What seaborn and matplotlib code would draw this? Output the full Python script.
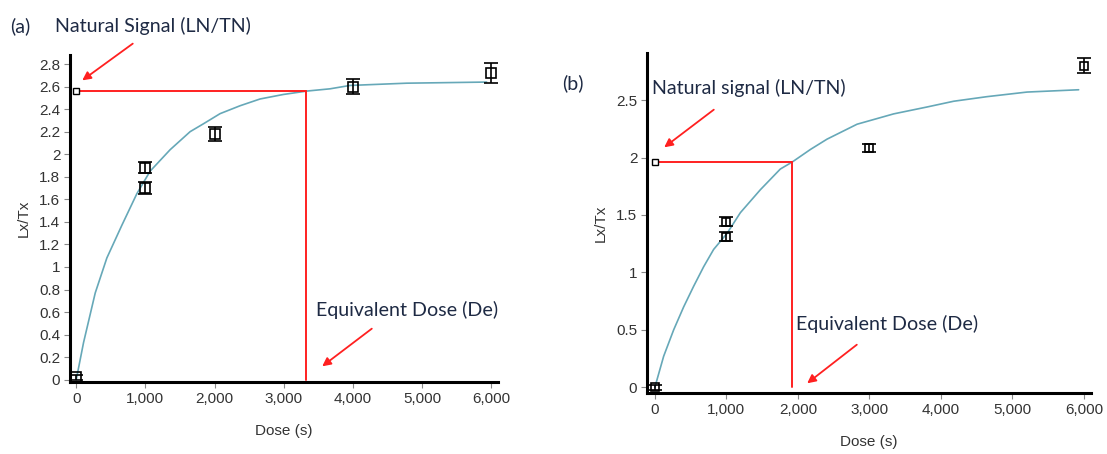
import numpy as np
import pandas as pd
import matplotlib
matplotlib.use("Agg")
import matplotlib.pyplot as plt
from matplotlib.ticker import FuncFormatter
import seaborn as sns

# ---------------- data ----------------
# Panel (a)
a_dose = [0, 1000, 1000, 2000, 4000, 6000]
a_lxtx = [0.02, 1.88, 1.70, 2.18, 2.60, 2.72]
a_err = [0.02, 0.05, 0.05, 0.065, 0.07, 0.085]
a_curve_dose = [0, 106, 275, 443, 660, 877, 1069, 1358, 1647, 1840, 2081, 2370,
                2659, 2996, 3333, 3670, 3960, 4778, 5935]
a_curve_lxtx = [0.0, 0.33, 0.77, 1.08, 1.37, 1.65, 1.85, 2.04, 2.20, 2.27, 2.36, 2.43,
                2.49, 2.53, 2.56, 2.58, 2.61, 2.63, 2.64]
a_natural = 2.56
a_de = 3320
a_yticks = [0, 0.2, 0.4, 0.6, 0.8, 1, 1.2, 1.4, 1.6, 1.8, 2, 2.2, 2.4, 2.6, 2.8]

# Panel (b)
b_dose = [0, 1000, 1000, 3000, 6000]
b_lxtx = [0.0, 1.44, 1.31, 2.08, 2.80]
b_err = [0.02, 0.04, 0.04, 0.035, 0.065]
b_curve_dose = [0, 123, 263, 403, 543, 683, 822, 1010, 1196, 1476, 1755, 1919, 2175,
                2408, 2828, 3340, 3807, 4179, 4646, 5206, 5927]
b_curve_lxtx = [0.0, 0.27, 0.50, 0.70, 0.88, 1.05, 1.20, 1.34, 1.52, 1.72, 1.90, 1.96, 2.07,
                2.16, 2.29, 2.38, 2.44, 2.49, 2.53, 2.57, 2.59]
b_natural = 1.96
b_de = 1919
b_yticks = [0, 0.5, 1, 1.5, 2, 2.5]

x_ticks = [0, 1000, 2000, 3000, 4000, 5000, 6000]

# ---------------- style ----------------
sns.set_style("white")
plt.rcParams["font.family"] = ["Liberation Sans", "DejaVu Sans"]

W, H = 1107, 454
fig = plt.figure(figsize=(W / 100, H / 100), dpi=100)

def px_axes(l, t, r, b):
    return fig.add_axes([l / W, 1 - b / H, (r - l) / W, (b - t) / H])

ax_a = px_axes(70, 55, 498, 382)
ax_b = px_axes(647, 53, 1091, 393)

curve_col = "#66A8B8"
red = "#FF2020"
note_col = "#1E2A44"
tick_col = "#333333"

def fmt_x(v, pos):
    return f"{int(round(v)):,}"

def fmt_y(v, pos):
    return f"{v:g}"

def style_axes(ax, xlim, ylim, yticks):
    ax.set_xlim(*xlim)
    ax.set_ylim(*ylim)
    ax.set_xticks(x_ticks)
    ax.set_yticks(yticks)
    ax.xaxis.set_major_formatter(FuncFormatter(fmt_x))
    ax.yaxis.set_major_formatter(FuncFormatter(fmt_y))
    for s in ["top", "right"]:
        ax.spines[s].set_visible(False)
    for s in ["left", "bottom"]:
        ax.spines[s].set_color("black")
        ax.spines[s].set_linewidth(2.2)
    ax.tick_params(axis="both", which="major", direction="out", length=4,
                   width=0.8, color="#888888", labelsize=11, labelcolor=tick_col,
                   pad=3, left=True, bottom=True)
    ax.set_xlabel("Dose (s)", fontsize=11, color=tick_col, labelpad=13)
    ax.set_ylabel("Lx/Tx", fontsize=11, color=tick_col, labelpad=6)
    ax.patch.set_alpha(0)

def draw_panel(ax, dose, lxtx, err, cdose, clxtx, natural, de, msize, csize):
    df_c = pd.DataFrame({"Dose": cdose, "LxTx": clxtx})
    sns.lineplot(data=df_c, x="Dose", y="LxTx", ax=ax, color=curve_col,
                 linewidth=1.2, zorder=2)
    # red construction lines
    ax.plot([0, de], [natural, natural], color=red, lw=1.4, zorder=3)
    ax.plot([de, de], [natural, 0], color=red, lw=1.4, zorder=3)
    # data points with error bars
    ax.errorbar(dose, lxtx, yerr=err, fmt="s", mfc="none", mec="black",
                ms=msize, mew=1.2, ecolor="black", elinewidth=1.2,
                capsize=csize, capthick=1.2, zorder=4)
    # natural signal marker
    ax.plot([0], [natural], marker="s", ms=5, mfc="white", mec="black",
            mew=1.0, zorder=5, clip_on=False)

draw_panel(ax_a, a_dose, a_lxtx, a_err, a_curve_dose, a_curve_lxtx,
           a_natural, a_de, msize=7, csize=5)
style_axes(ax_a, (-90, 6100), (-0.02, 2.88), a_yticks)

draw_panel(ax_b, b_dose, b_lxtx, b_err, b_curve_dose, b_curve_lxtx,
           b_natural, b_de, msize=6, csize=5)
style_axes(ax_b, (-110, 6100), (-0.05, 2.91), b_yticks)

# ---------------- annotations (figure pixel coordinates) ----------------
def fx(x):
    return x / W

def fy(y):
    return 1 - y / H

note_font = dict(family=["Lato", "DejaVu Sans"], fontsize=14.1, color=note_col)

fig.text(fx(10), fy(26), "(a)", ha="left", va="center", **note_font)
fig.text(fx(55), fy(26), "Natural Signal (LN/TN)", ha="left", va="center", **note_font)
fig.text(fx(316), fy(310), "Equivalent Dose (De)", ha="left", va="center", **note_font)
fig.text(fx(562), fy(83), "(b)", ha="left", va="center", **note_font)
fig.text(fx(652), fy(88), "Natural signal (LN/TN)", ha="left", va="center", **note_font)
fig.text(fx(796), fy(324), "Equivalent Dose (De)", ha="left", va="center", **note_font)

def arrow(x0, y0, x1, y1):
    fig.add_artist(matplotlib.patches.FancyArrowPatch(
        (fx(x0), fy(y0)), (fx(x1), fy(y1)), transform=fig.transFigure,
        arrowstyle="-|>,head_length=5,head_width=2.5", color=red, lw=1.3))

arrow(135, 42, 80, 82)
arrow(374, 327, 320, 368)
arrow(716, 108, 662, 149)
arrow(859, 343, 805, 385)

fig.savefig("out.png", dpi=100)
